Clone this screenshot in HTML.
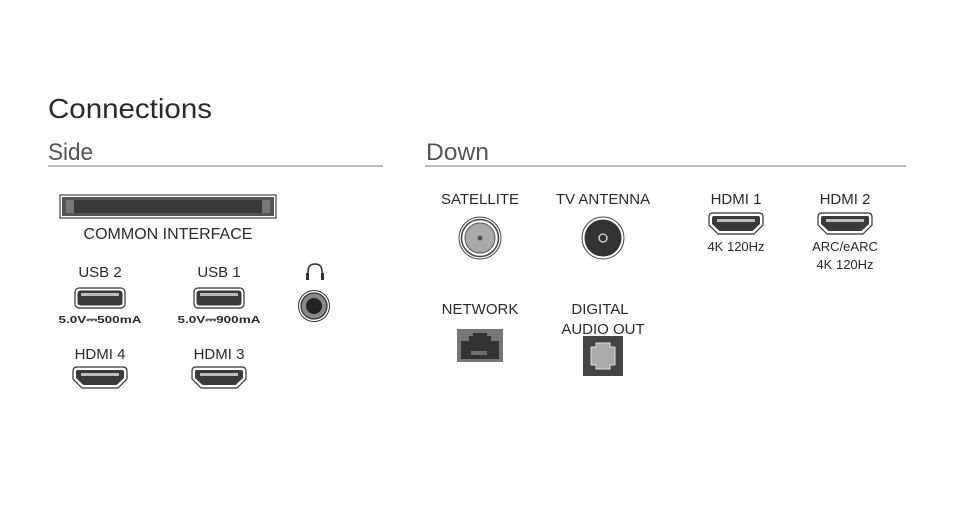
<!DOCTYPE html>
<html><head><meta charset="utf-8"><style>
html,body{margin:0;padding:0;background:#fff;}
svg{display:block;}
text{font-family:"Liberation Sans",sans-serif;fill:#2a2a2a;}
</style></head><body>
<svg width="956" height="507" viewBox="0 0 956 507" xmlns="http://www.w3.org/2000/svg">
<defs>
<g id="usb">
<rect x="0" y="0" width="50" height="20" rx="4" fill="#fff" stroke="#333" stroke-width="1.2"/>
<rect x="2.5" y="2.5" width="45" height="15" rx="3" fill="#3a3a3a"/>
<rect x="6" y="5" width="38" height="3" fill="#bbb"/>
</g>
<g id="hdmi">
<path d="M1,4 Q1,0 5,0 L51,0 Q55,0 55,4 L55,12 L46,21 L10,21 L1,12 Z" fill="#fff" stroke="#333" stroke-width="1.2"/>
<path d="M4,5 Q4,3 6,3 L50,3 Q52,3 52,5 L52,11 L44.5,18 L11.5,18 L4,11 Z" fill="#3a3a3a"/>
<rect x="9" y="6" width="38" height="3" fill="#bbb"/>
</g>
</defs>

<text x="48" y="118" font-size="28" textLength="164" lengthAdjust="spacingAndGlyphs" fill="#333">Connections</text>
<text x="48" y="160" font-size="24" textLength="45" lengthAdjust="spacingAndGlyphs" style="fill:#555">Side</text>
<line x1="48" y1="166" x2="383" y2="166" stroke="#777" stroke-width="1"/>
<text x="426" y="160" font-size="24" textLength="63" lengthAdjust="spacingAndGlyphs" style="fill:#555">Down</text>
<line x1="425" y1="166" x2="906" y2="166" stroke="#777" stroke-width="1"/>

<!-- CI slot -->
<rect x="60" y="195" width="216" height="23" fill="#fff" stroke="#444" stroke-width="1.2"/>
<rect x="62" y="197" width="212" height="19" fill="#555"/>
<rect x="68" y="200" width="200" height="13" fill="#3a3a3a"/>
<rect x="66" y="200" width="8" height="13" fill="#777"/>
<rect x="262" y="200" width="8" height="13" fill="#777"/>
<text x="168" y="239" font-size="16" text-anchor="middle">COMMON INTERFACE</text>

<text x="100" y="277" font-size="15" text-anchor="middle">USB 2</text>
<use href="#usb" x="75" y="288"/>
<text x="100" y="323" font-size="10.5" font-weight="bold" text-anchor="middle" textLength="83" lengthAdjust="spacingAndGlyphs">5.0V⎓500mA</text>
<text x="219" y="277" font-size="15" text-anchor="middle">USB 1</text>
<use href="#usb" x="194" y="288"/>
<text x="219" y="323" font-size="10.5" font-weight="bold" text-anchor="middle" textLength="83" lengthAdjust="spacingAndGlyphs">5.0V⎓900mA</text>

<!-- headphone -->
<path d="M308,279 L308,272 Q308,264 315,264 Q322,264 322,272 L322,279" fill="none" stroke="#333" stroke-width="1.6"/>
<rect x="306" y="273" width="3" height="7" fill="#333"/>
<rect x="321" y="273" width="3" height="7" fill="#333"/>
<circle cx="314" cy="306" r="15.5" fill="#fff" stroke="#333" stroke-width="1"/>
<circle cx="314" cy="306" r="13" fill="#888" stroke="#333" stroke-width="1.3"/>
<circle cx="314" cy="306" r="8" fill="#222"/>

<text x="100" y="359" font-size="15" text-anchor="middle">HDMI 4</text>
<use href="#hdmi" x="72" y="367"/>
<text x="219" y="359" font-size="15" text-anchor="middle">HDMI 3</text>
<use href="#hdmi" x="191" y="367"/>

<!-- Down -->
<text x="480" y="204" font-size="15" text-anchor="middle">SATELLITE</text>
<circle cx="480" cy="238" r="21" fill="#fff" stroke="#444" stroke-width="1"/>
<circle cx="480" cy="238" r="18.5" fill="#fff" stroke="#444" stroke-width="1.5"/>
<circle cx="480" cy="238" r="15" fill="#aaa" stroke="#555" stroke-width="1"/>
<circle cx="480" cy="238" r="2.5" fill="#555"/>

<text x="603" y="204" font-size="15" text-anchor="middle">TV ANTENNA</text>
<circle cx="603" cy="238" r="21" fill="#fff" stroke="#444" stroke-width="1"/>
<circle cx="603" cy="238" r="18.5" fill="#333"/>
<circle cx="603" cy="238" r="4" fill="none" stroke="#ddd" stroke-width="1.3"/>

<text x="736" y="204" font-size="15" text-anchor="middle">HDMI 1</text>
<use href="#hdmi" x="708" y="213"/>
<text x="736" y="251" font-size="13" text-anchor="middle">4K 120Hz</text>

<text x="845" y="204" font-size="15" text-anchor="middle">HDMI 2</text>
<use href="#hdmi" x="817" y="213"/>
<text x="845" y="251" font-size="13" text-anchor="middle">ARC/eARC</text>
<text x="845" y="269" font-size="13" text-anchor="middle">4K 120Hz</text>

<text x="480" y="314" font-size="15" text-anchor="middle">NETWORK</text>
<rect x="457" y="329" width="46" height="33" fill="#777"/>
<path d="M461,341 L469,341 L469,336 L473,336 L473,333 L487,333 L487,336 L491,336 L491,341 L499,341 L499,359 L461,359 Z" fill="#333"/>
<g stroke="#ccc" stroke-width="0.8">
<line x1="472" y1="351" x2="472" y2="355"/><line x1="474" y1="351" x2="474" y2="355"/><line x1="476" y1="351" x2="476" y2="355"/><line x1="478" y1="351" x2="478" y2="355"/><line x1="480" y1="351" x2="480" y2="355"/><line x1="482" y1="351" x2="482" y2="355"/><line x1="484" y1="351" x2="484" y2="355"/><line x1="486" y1="351" x2="486" y2="355"/>
</g>

<text x="600" y="314" font-size="15" text-anchor="middle">DIGITAL</text>
<text x="603" y="334" font-size="15" text-anchor="middle">AUDIO OUT</text>
<rect x="583" y="336" width="40" height="40" fill="#444"/>
<path d="M596,343 L610,343 L610,347 L615,347 L615,365 L610,365 L610,369 L596,369 L596,365 L591,365 L591,347 L596,347 Z" fill="#aaa" stroke="#ddd" stroke-width="1"/>
</svg>
</body></html>
